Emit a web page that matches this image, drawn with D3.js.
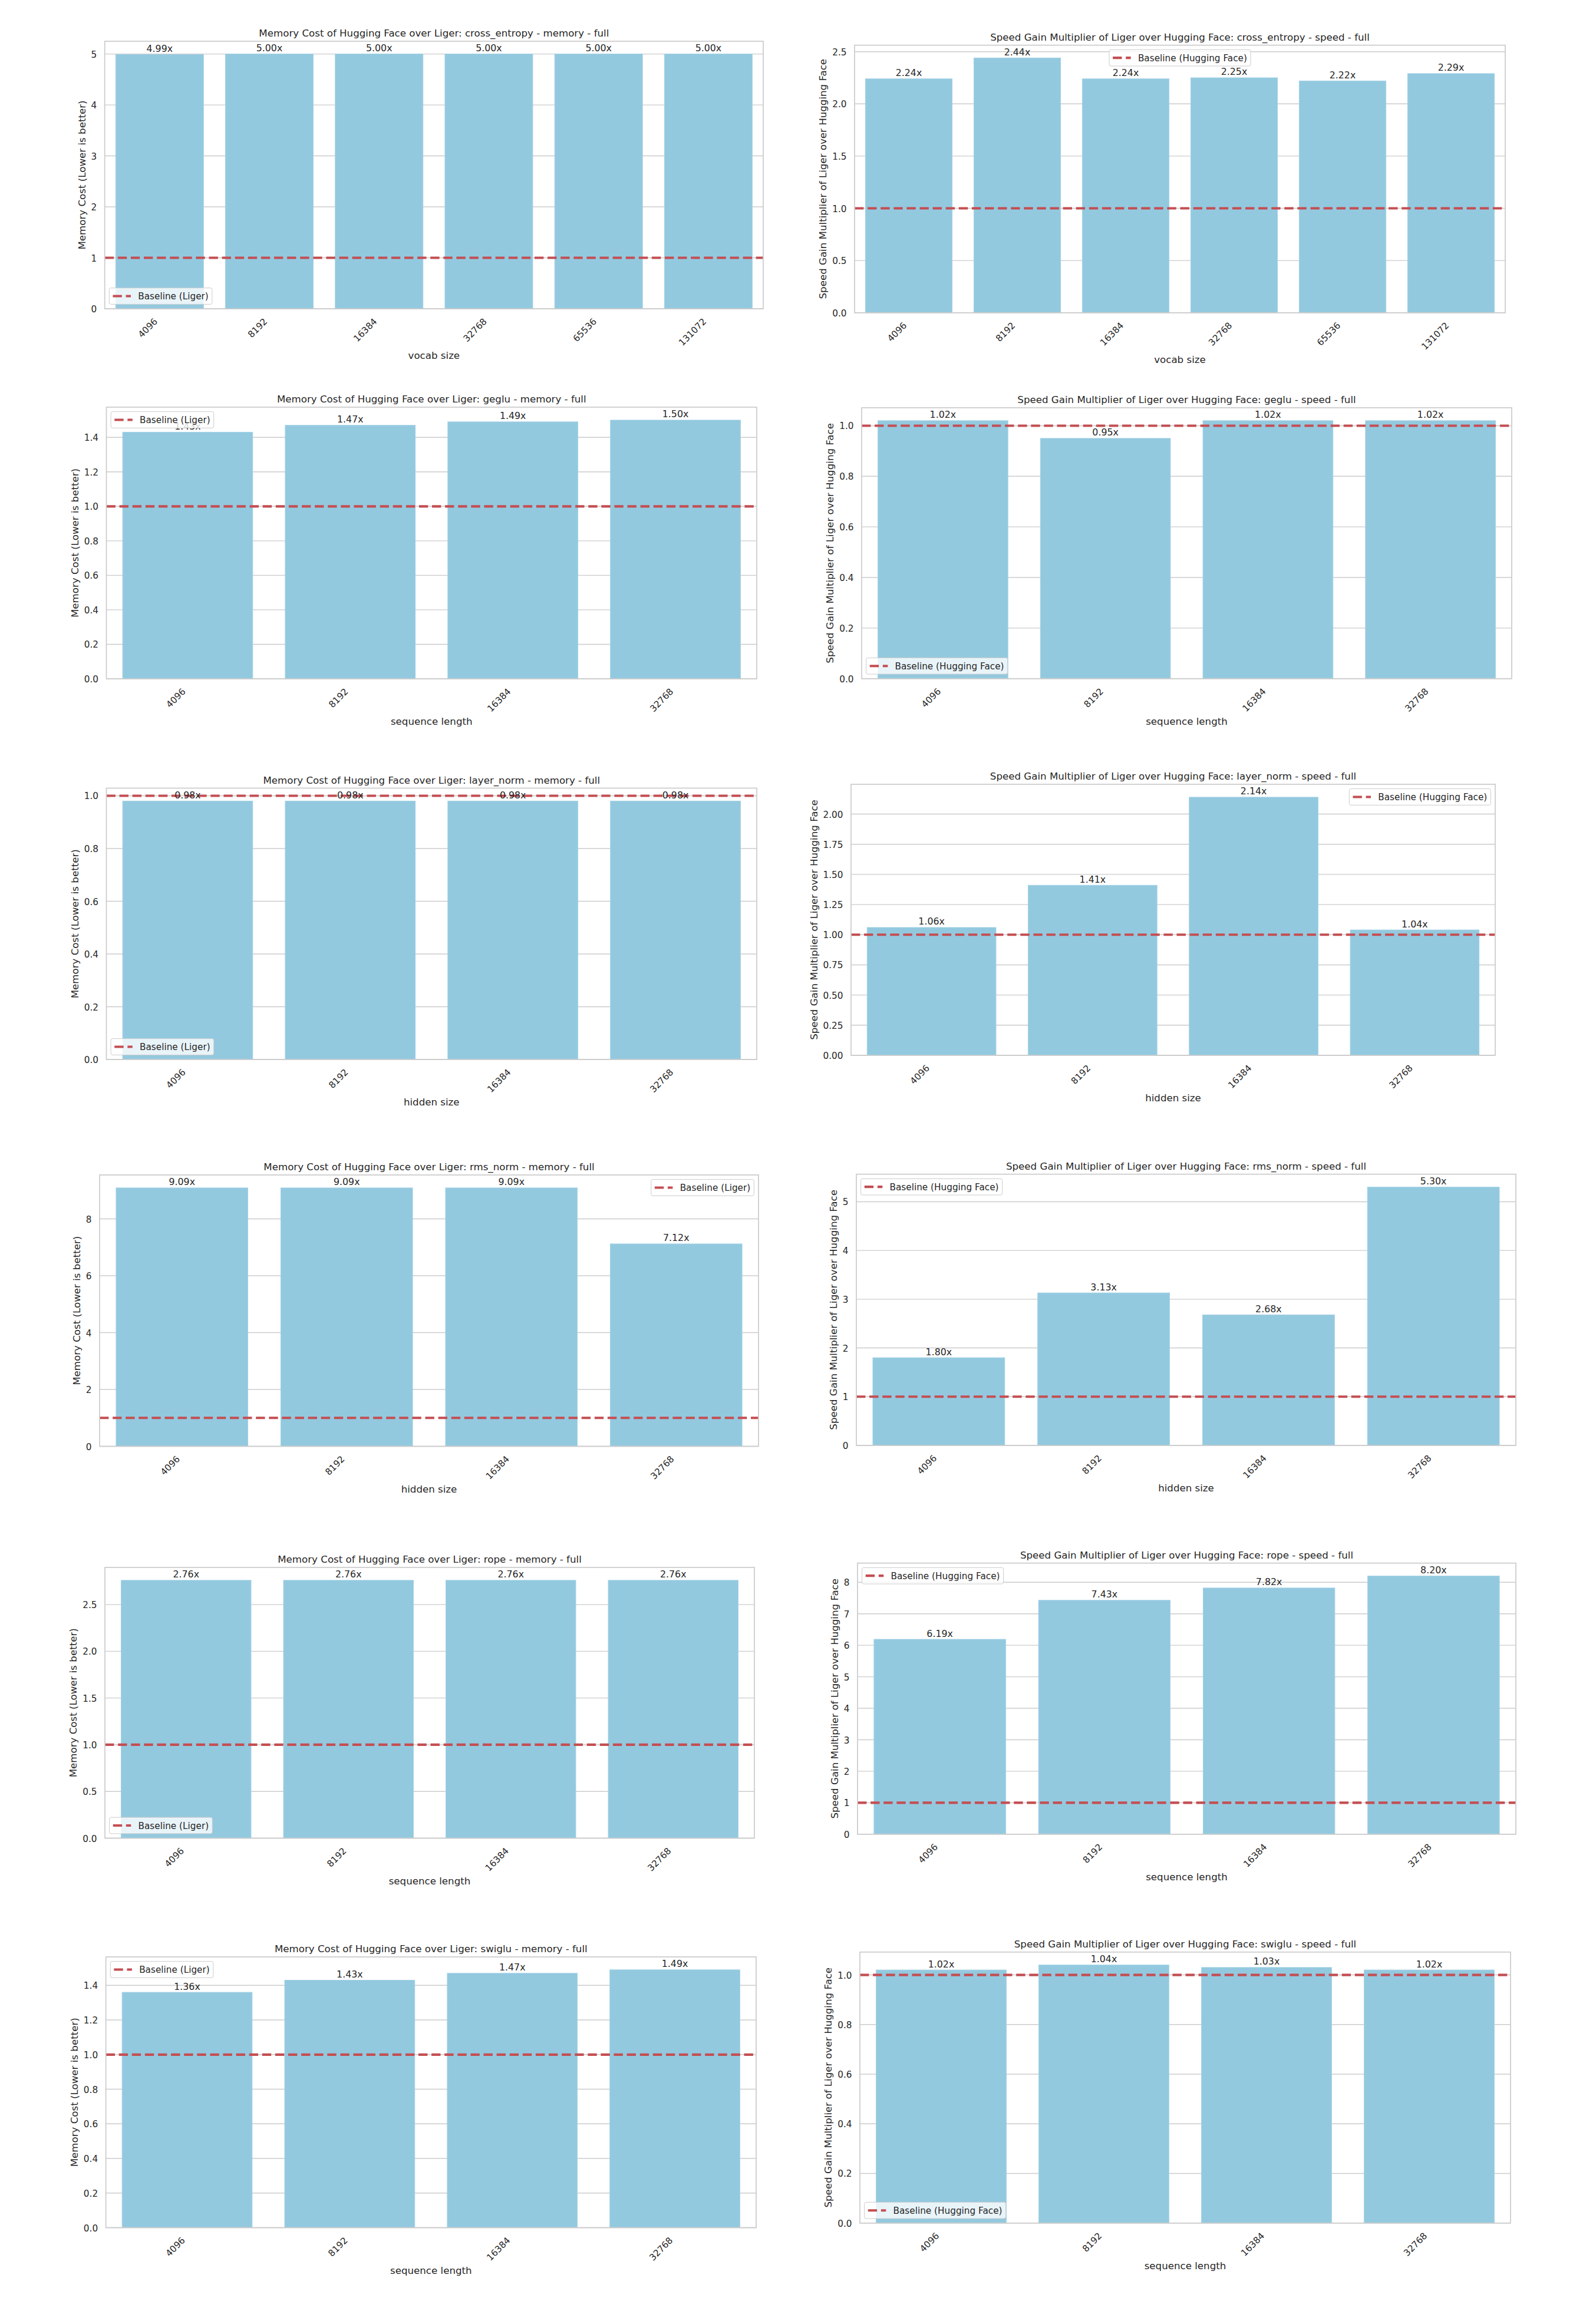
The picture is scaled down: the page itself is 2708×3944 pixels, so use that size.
<!DOCTYPE html>
<html>
<head>
<meta charset="utf-8">
<script src="https://cdnjs.cloudflare.com/ajax/libs/d3/7.8.5/d3.min.js"></script>
<style>
  body { margin: 0; background: #fff; }
  text { font-family: "DejaVu Sans", sans-serif; fill: #262626; }
</style>
</head>
<body>
<script>
// categories
var vocabSizes = ['4096', '8192', '16384', '32768', '65536', '131072'];
var seqLengths = ['4096', '8192', '16384', '32768'];
var hiddenSizes = ['4096', '8192', '16384', '32768'];

// multipliers
var ceMemory = [4.99, 5.00, 5.00, 5.00, 5.00, 5.00];
var ceSpeed = [2.24, 2.44, 2.24, 2.25, 2.22, 2.29];
var gegluMemory = [1.43, 1.47, 1.49, 1.50];
var gegluSpeed = [1.02, 0.95, 1.02, 1.02];
var layerNormMemory = [0.98, 0.98, 0.98, 0.98];
var layerNormSpeed = [1.06, 1.41, 2.14, 1.04];
var rmsNormMemory = [9.09, 9.09, 9.09, 7.12];
var rmsNormSpeed = [1.80, 3.13, 2.68, 5.30];
var ropeMemory = [2.76, 2.76, 2.76, 2.76];
var ropeSpeed = [6.19, 7.43, 7.82, 8.20];
var swigluMemory = [1.36, 1.43, 1.47, 1.49];
var swigluSpeed = [1.02, 1.04, 1.03, 1.02];

// y tick labels
var ceMemTicks = ['0', '1', '2', '3', '4', '5'];
var ceSpeedTicks = ['0.0', '0.5', '1.0', '1.5', '2.0', '2.5'];
var gegluMemTicks = ['0.0', '0.2', '0.4', '0.6', '0.8', '1.0', '1.2', '1.4'];
var gegluSpeedTicks = ['0.0', '0.2', '0.4', '0.6', '0.8', '1.0'];
var lnMemTicks = ['0.0', '0.2', '0.4', '0.6', '0.8', '1.0'];
var lnSpeedTicks = ['0.00', '0.25', '0.50', '0.75', '1.00', '1.25', '1.50', '1.75', '2.00'];
var rmsMemTicks = ['0', '2', '4', '6', '8'];
var rmsSpeedTicks = ['0', '1', '2', '3', '4', '5'];
var ropeMemTicks = ['0.0', '0.5', '1.0', '1.5', '2.0', '2.5'];
var ropeSpeedTicks = ['0', '1', '2', '3', '4', '5', '6', '7', '8'];
var swigluMemTicks = ['0.0', '0.2', '0.4', '0.6', '0.8', '1.0', '1.2', '1.4'];
var swigluSpeedTicks = ['0.0', '0.2', '0.4', '0.6', '0.8', '1.0'];

var panels = [
  { kernel: 'cross_entropy', metric: 'memory', cats: vocabSizes, xlabel: 'vocab size', values: ceMemory, ticks: ceMemTicks },
  { kernel: 'cross_entropy', metric: 'speed', cats: vocabSizes, xlabel: 'vocab size', values: ceSpeed, ticks: ceSpeedTicks },
  { kernel: 'geglu', metric: 'memory', cats: seqLengths, xlabel: 'sequence length', values: gegluMemory, ticks: gegluMemTicks },
  { kernel: 'geglu', metric: 'speed', cats: seqLengths, xlabel: 'sequence length', values: gegluSpeed, ticks: gegluSpeedTicks },
  { kernel: 'layer_norm', metric: 'memory', cats: hiddenSizes, xlabel: 'hidden size', values: layerNormMemory, ticks: lnMemTicks },
  { kernel: 'layer_norm', metric: 'speed', cats: hiddenSizes, xlabel: 'hidden size', values: layerNormSpeed, ticks: lnSpeedTicks },
  { kernel: 'rms_norm', metric: 'memory', cats: hiddenSizes, xlabel: 'hidden size', values: rmsNormMemory, ticks: rmsMemTicks },
  { kernel: 'rms_norm', metric: 'speed', cats: hiddenSizes, xlabel: 'hidden size', values: rmsNormSpeed, ticks: rmsSpeedTicks },
  { kernel: 'rope', metric: 'memory', cats: seqLengths, xlabel: 'sequence length', values: ropeMemory, ticks: ropeMemTicks },
  { kernel: 'rope', metric: 'speed', cats: seqLengths, xlabel: 'sequence length', values: ropeSpeed, ticks: ropeSpeedTicks },
  { kernel: 'swiglu', metric: 'memory', cats: seqLengths, xlabel: 'sequence length', values: swigluMemory, ticks: swigluMemTicks },
  { kernel: 'swiglu', metric: 'speed', cats: seqLengths, xlabel: 'sequence length', values: swigluSpeed, ticks: swigluSpeedTicks }
];

// where each axes box sits on the page, and where its legend went
var boxes = [
  { l: 177.7, r: 1295, t: 70, b: 524, legend: 'll' },
  { l: 1450, r: 2554, t: 76.7, b: 530.7, legend: 'uc' },
  { l: 180.5, r: 1284, t: 691, b: 1152, legend: 'ul' },
  { l: 1462, r: 2565, t: 692, b: 1151.7, legend: 'll' },
  { l: 180.5, r: 1284, t: 1337.5, b: 1798, legend: 'll' },
  { l: 1444, r: 2537, t: 1331, b: 1791, legend: 'ur' },
  { l: 169, r: 1287, t: 1994, b: 2454.5, legend: 'ur' },
  { l: 1453, r: 2572, t: 1992.7, b: 2453, legend: 'ul' },
  { l: 178, r: 1280, t: 2660, b: 3119.5, legend: 'll' },
  { l: 1455, r: 2572, t: 2652.7, b: 3112.8, legend: 'ul' },
  { l: 179.6, r: 1283, t: 3321, b: 3780.5, legend: 'ul' },
  { l: 1459, r: 2563, t: 3312.8, b: 3772.7, legend: 'll' }
];

var W = 2708, H = 3944;
var barColor = '#93c9df', lineColor = '#c44e52', gridColor = '#cccccc';
var tickFs = 15.28, labelFs = 16.67, valueFs = 15.8;

var svg = d3.select('body').append('svg')
  .attr('width', W)
  .attr('height', H);

svg.append('rect').attr('width', W).attr('height', H).attr('fill', '#fff');

panels.forEach(function(p, i) { drawPanel(p, boxes[i]); });

function drawPanel(p, box) {
  var g = svg.append('g');
  var isMem = p.metric === 'memory';

  var x = d3.scaleBand().domain(p.cats).range([box.l, box.r])
    .paddingInner(0.2).paddingOuter(0.1);
  var y = d3.scaleLinear().domain([0, d3.max(p.values) * 1.05]).range([box.b, box.t]);

  // horizontal grid
  g.selectAll('.grid').data(p.ticks).enter().append('line')
    .attr('x1', box.l).attr('x2', box.r)
    .attr('y1', function(d) { return y(+d); })
    .attr('y2', function(d) { return y(+d); })
    .attr('stroke', gridColor).attr('stroke-width', 1.4);

  // bars
  g.selectAll('.bar').data(p.values).enter().append('rect')
    .attr('x', function(d, i) { return x(p.cats[i]); })
    .attr('y', function(d) { return y(d); })
    .attr('width', x.bandwidth())
    .attr('height', function(d) { return box.b - y(d); })
    .attr('fill', barColor)
    .attr('stroke', '#a3d2e5').attr('stroke-width', 1);

  // baseline at 1x
  g.append('line')
    .attr('x1', box.l).attr('x2', box.r)
    .attr('y1', y(1)).attr('y2', y(1))
    .attr('stroke', lineColor).attr('stroke-width', 4.17)
    .attr('stroke-dasharray', '15.4 6.7');

  // frame
  g.append('rect')
    .attr('x', box.l).attr('y', box.t)
    .attr('width', box.r - box.l).attr('height', box.b - box.t)
    .attr('fill', 'none').attr('stroke', gridColor).attr('stroke-width', 1.74);

  // y axis
  var yAxis = d3.axisLeft(y)
    .tickValues(p.ticks.map(Number))
    .tickFormat(function(d, i) { return p.ticks[i]; })
    .tickSize(0).tickPadding(13.5);
  var yg = g.append('g').attr('transform', 'translate(' + box.l + ',0)').call(yAxis);
  yg.select('.domain').remove();
  yg.attr('font-family', null).attr('font-size', null);
  yg.selectAll('text').attr('font-size', tickFs).attr('fill', '#262626').attr('dy', '0.36em');

  // x axis, labels turned 45 degrees
  var a = 0.76 * tickFs, dsc = 0.24 * tickFs;
  var xAxis = d3.axisBottom(x).tickSize(0).tickPadding(0);
  var xg = g.append('g').attr('transform', 'translate(0,' + box.b + ')').call(xAxis);
  xg.select('.domain').remove();
  xg.attr('font-family', null).attr('font-size', null);
  xg.selectAll('text')
    .attr('font-size', tickFs).attr('fill', '#262626')
    .attr('y', null).attr('dy', null)
    .attr('text-anchor', 'end')
    .attr('transform', 'translate(' + (-0.707 * dsc) + ',' + (14.4 + 0.707 * a) + ') rotate(-45)');

  // value labels
  g.selectAll('.val').data(p.values).enter().append('text')
    .attr('x', function(d, i) { return x(p.cats[i]) + x.bandwidth() / 2; })
    .attr('y', function(d) { return y(d) - 4.5; })
    .attr('text-anchor', 'middle')
    .attr('font-size', valueFs)
    .text(function(d) { return d.toFixed(2) + 'x'; });

  // title
  g.append('text')
    .attr('x', (box.l + box.r) / 2).attr('y', box.t - 8)
    .attr('text-anchor', 'middle').attr('font-size', labelFs)
    .text(isMem
      ? 'Memory Cost of Hugging Face over Liger: ' + p.kernel + ' - memory - full'
      : 'Speed Gain Multiplier of Liger over Hugging Face: ' + p.kernel + ' - speed - full');

  // axis labels placed off the tick label extents
  var xb = xg.node().getBBox();
  g.append('text')
    .attr('x', (box.l + box.r) / 2)
    .attr('y', box.b + xb.y + xb.height + 5.6 + 0.76 * labelFs)
    .attr('text-anchor', 'middle').attr('font-size', labelFs)
    .text(p.xlabel);

  var yb = yg.node().getBBox();
  var ylx = box.l + yb.x - 9.8;
  g.append('text')
    .attr('transform', 'translate(' + ylx + ',' + ((box.t + box.b) / 2) + ') rotate(-90)')
    .attr('text-anchor', 'middle').attr('font-size', labelFs)
    .text(isMem ? 'Memory Cost (Lower is better)' : 'Speed Gain Multiplier of Liger over Hugging Face');

  drawLegend(g, box, isMem ? 'Baseline (Liger)' : 'Baseline (Hugging Face)');
}

function drawLegend(g, box, label) {
  var fs = tickFs, pad = 0.4 * fs, hl = 2 * fs, htp = 0.8 * fs, bap = 0.5 * fs, h = 27.7;
  var lg = g.append('g');
  var frame = lg.append('rect');
  var txt = lg.append('text').attr('font-size', fs).text(label);
  var w = 2 * pad + hl + htp + txt.node().getComputedTextLength();

  var lx, ly;
  if (box.legend[0] === 'u') ly = box.t + bap; else ly = box.b - bap - h;
  if (box.legend[1] === 'l') lx = box.l + bap;
  else if (box.legend[1] === 'r') lx = box.r - bap - w;
  else lx = (box.l + box.r) / 2 - w / 2;

  frame.attr('x', lx).attr('y', ly).attr('width', w).attr('height', h)
    .attr('rx', 3).attr('fill', '#fff').attr('fill-opacity', 0.8)
    .attr('stroke', gridColor).attr('stroke-width', 1);
  lg.append('line')
    .attr('x1', lx + pad).attr('x2', lx + pad + hl)
    .attr('y1', ly + h / 2).attr('y2', ly + h / 2)
    .attr('stroke', lineColor).attr('stroke-width', 4.17)
    .attr('stroke-dasharray', '15.4 6.7');
  txt.attr('x', lx + pad + hl + htp).attr('y', ly + h / 2).attr('dy', '0.36em');
}
</script>
</body>
</html>
